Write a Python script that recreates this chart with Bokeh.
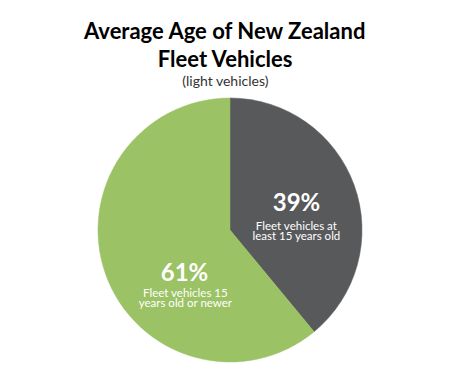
from bokeh.plotting import figure
from bokeh.models import Range1d, ColumnDataSource
from bokeh.core.properties import value
from bokeh.embed import file_html
from bokeh.resources import INLINE
import math

title_lines = ["Average Age of New Zealand", "Fleet Vehicles"]
subtitle = "(light vehicles)"
categories = ["Fleet vehicles at least 15 years old", "Fleet vehicles 15 years old or newer"]
shares = [39, 61]
pct_labels = ["39%", "61%"]
desc_lines = [["Fleet vehicles at", "least 15 years old"], ["Fleet vehicles 15", "years old or newer"]]
colors = ["#58595b", "#9bc264"]

W, H = 450, 370
FONT = "Lato"

p = figure(width=W, height=H, output_backend="svg", toolbar_location=None,
           x_range=Range1d(0, W), y_range=Range1d(0, H), min_border=0)
p.axis.visible = False
p.grid.visible = False
p.outline_line_color = None
p.background_fill_color = "white"

OFF = 0
def Y(page_y):
    return H - (page_y - OFF)
def X(page_x):
    return page_x - OFF

cx, cy, r = X(229.5), Y(229.5), 132
total = sum(shares)
starts, ends = [], []
cum = 0.0
for s in shares:
    a0 = math.pi / 2 - 2 * math.pi * cum / total
    cum += s
    a1 = math.pi / 2 - 2 * math.pi * cum / total
    starts.append(a1)
    ends.append(a0)
src = ColumnDataSource(dict(x=[cx] * len(shares), y=[cy] * len(shares), start=starts, end=ends,
                            color=colors, cat=categories))
p.wedge(x="x", y="y", radius=r, start_angle="start", end_angle="end", fill_color="color",
        line_color="color", line_width=0.5, source=src)

# Titles
p.text(x=[X(225), X(225)], y=[Y(30), Y(57.5)], text=title_lines, text_font=value(FONT),
       text_font_style="bold", text_font_size="22px", text_align="center",
       text_baseline="alphabetic", text_color="#000000")
p.text(x=[X(225)], y=[Y(80)], text=[subtitle], text_font=value(FONT), text_font_size="14px",
       text_align="center", text_baseline="alphabetic", text_color="#333333")

# Slice labels
pct_pos = [(296, 201), (184, 271)]
desc_pos = [(296, [224.5, 235]), (185, [291.5, 301.5])]
for i in range(len(shares)):
    px, py = pct_pos[i]
    p.text(x=[X(px)], y=[Y(py)], text=[pct_labels[i]], text_font=value(FONT),
           text_font_style="bold", text_font_size="24px", text_align="center",
           text_baseline="alphabetic", text_color="white")
    dx, dys = desc_pos[i]
    p.text(x=[X(dx)] * 2, y=[Y(v) for v in dys], text=desc_lines[i], text_font=value(FONT),
           text_font_size="11.5px", text_align="center", text_baseline="alphabetic",
           text_color="white")

open("out.html", "w").write(file_html(p, INLINE))
